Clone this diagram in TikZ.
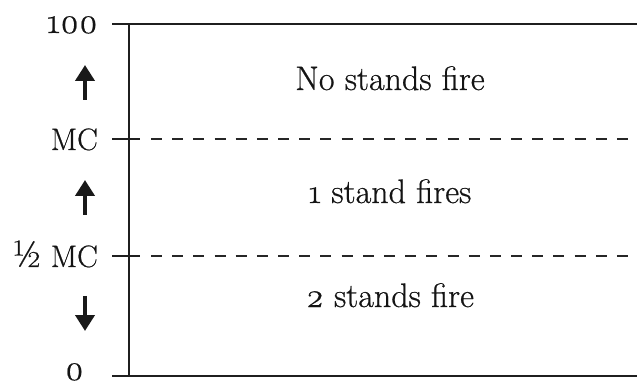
\documentclass[tikz,border=0pt]{standalone}
\usepackage{fontspec}
\setmainfont{Latin Modern Roman}[Numbers=OldStyle,FakeBold=0.6]
\usetikzlibrary{arrows.meta}
\begin{document}
\begin{tikzpicture}[x=1pt,y={(0pt,-1pt)},
  axisline/.style={line width=2.6pt, color=black!88},
  divline/.style={line width=2.9pt, color=black!85, dash pattern=on 11pt off 10.18pt},
  ticklbl/.style={anchor=base east, inner sep=0pt, font=\fontsize{31}{34}\selectfont, text=black!92},
  numlbl/.style={ticklbl, font=\fontsize{36}{40}\selectfont},
  zonelbl/.style={anchor=base, inner sep=0pt, font=\fontsize{34}{38}\selectfont, text=black!92},
  dirarrow/.style={line width=4.5pt, color=black!90, -{Triangle[width=19pt,length=16pt]}}
]
\useasboundingbox (0,0) rectangle (637,387);
% axis
\coordinate (ax0) at (129,376);
\coordinate (ax100) at (129,24);
\coordinate (t100l) at (112,24);
\coordinate (t100r) at (637,24);
\coordinate (t0l) at (112,376);
\coordinate (t0r) at (637,376);
\coordinate (mcl) at (112,139);
\coordinate (mcs) at (140,139);
\coordinate (mcd) at (151,139);
\coordinate (mcr) at (628,139);
\coordinate (hml) at (112,256);
\coordinate (hms) at (140,256);
\coordinate (hmd) at (151,256);
\coordinate (hmr) at (628,256);
\draw[axisline] (ax0) -- (ax100);
\draw[axisline] (t100l) -- (t100r);
\draw[axisline] (t0l) -- (t0r);
\draw[axisline] (mcl) -- (mcs);
\draw[axisline] (hml) -- (hms);
\draw[divline] (mcd) -- (mcr);
\draw[divline] (hmd) -- (hmr);
% tick labels
\node[numlbl] (l100) at (98,33) {100};
\node[ticklbl] (lmc) at (98,150) {MC};
\node[ticklbl] (lhmc) at (98,267) {{\fontsize{38}{40}\selectfont ½} MC};
\node[numlbl] (l0) at (84,380) {0};
% zone labels
\node[zonelbl] (z1) at (390,90) {No stands fire};
\node[zonelbl] (z2) at (390,203) {1 stand fires};
\node[zonelbl] (z3) at (390,307) {2 stands fire};
% arrows
\coordinate (a1s) at (85,100);
\coordinate (a1e) at (85,65);
\coordinate (a2s) at (85,215);
\coordinate (a2e) at (85,180);
\coordinate (a3s) at (85,296);
\coordinate (a3e) at (85,331);
\draw[dirarrow] (a1s) -- (a1e);
\draw[dirarrow] (a2s) -- (a2e);
\draw[dirarrow] (a3s) -- (a3e);
\end{tikzpicture}
\end{document}
